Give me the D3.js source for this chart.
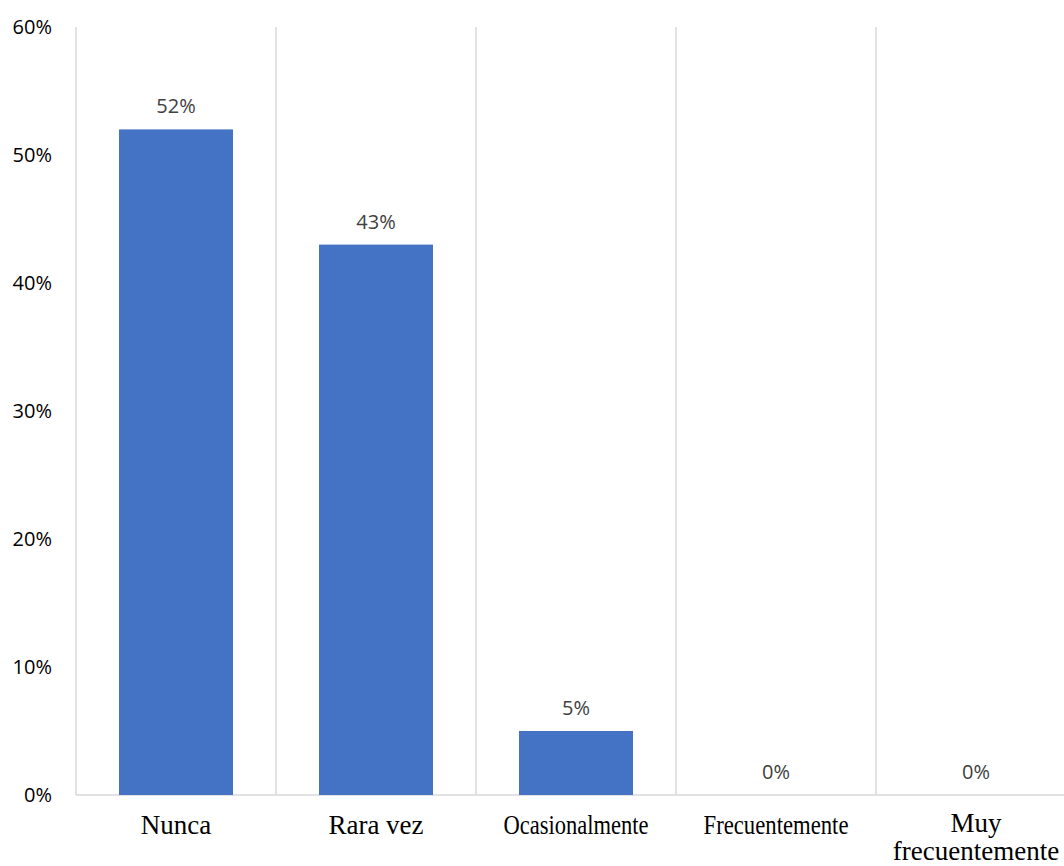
<!DOCTYPE html>
<html>
<head>
<meta charset="utf-8">
<script src="https://cdn.jsdelivr.net/npm/d3@7"></script>
<style>
  html, body { margin: 0; padding: 0; background: #ffffff; }
  svg { display: block; }
</style>
</head>
<body>
<script>
// Frequency categories and their share of responses
const categories = ["Nunca", "Rara vez", "Ocasionalmente", "Frecuentemente", "Muy frecuentemente"];
const categoryLines = [["Nunca"], ["Rara vez"], ["Ocasionalmente"], ["Frecuentemente"], ["Muy", "frecuentemente"]];
const values = [0.52, 0.43, 0.05, 0, 0];
const yTicks = [0, 0.1, 0.2, 0.3, 0.4, 0.5, 0.6];

const width = 1064, height = 866;
const plot = { left: 76, right: 1076, top: 27, bottom: 795 };

const svg = d3.select("body").append("svg")
  .attr("width", width)
  .attr("height", height);

const x = d3.scaleBand()
  .domain(categories)
  .range([plot.left, plot.right])
  .paddingInner(0.43)
  .paddingOuter(0.215);

const y = d3.scaleLinear()
  .domain([0, 0.6])
  .range([plot.bottom, plot.top]);

const step = x.step();
const pct = d3.format(".0%");
const sans = "'Open Sans', 'Noto Sans', sans-serif";

// Vertical separators between categories
const grid = svg.append("g");
d3.range(categories.length + 1).forEach(i => {
  const gx = plot.left + i * step;
  grid.append("line")
    .attr("x1", gx).attr("x2", gx)
    .attr("y1", y(0.6)).attr("y2", y(0))
    .attr("stroke", "#d9d9d9")
    .attr("stroke-width", 1.5);
});

// Baseline
svg.append("line")
  .attr("x1", plot.left).attr("x2", width)
  .attr("y1", y(0)).attr("y2", y(0))
  .attr("stroke", "#d9d9d9")
  .attr("stroke-width", 1.5);

// Y axis labels
const yAxis = d3.axisLeft(y)
  .tickValues(yTicks)
  .tickFormat(pct)
  .tickSize(0)
  .tickPadding(0);

const yg = svg.append("g")
  .attr("transform", `translate(52,0)`)
  .call(yAxis);
yg.select(".domain").remove();
yg.selectAll("text")
  .attr("font-family", sans)
  .attr("font-size", 20)
  .attr("fill", "#000000");

// Bars
svg.append("g")
  .selectAll("rect")
  .data(values)
  .join("rect")
  .attr("x", (d, i) => x(categories[i]))
  .attr("y", d => y(d))
  .attr("width", x.bandwidth())
  .attr("height", d => y(0) - y(d))
  .attr("fill", "#4472C4");

// Value labels
svg.append("g")
  .selectAll("text")
  .data(values)
  .join("text")
  .attr("x", (d, i) => x(categories[i]) + x.bandwidth() / 2)
  .attr("y", d => y(d) - 16)
  .attr("text-anchor", "middle")
  .attr("font-family", sans)
  .attr("font-size", 20)
  .attr("fill", "#404040")
  .text(d => pct(d));

// Category labels
const catG = svg.append("g");
categoryLines.forEach((lines, i) => {
  const cx = x(categories[i]) + x.bandwidth() / 2;
  const t = catG.append("text")
    .attr("text-anchor", "middle")
    .attr("font-family", "'Liberation Serif', 'Times New Roman', serif")
    .attr("font-size", 27)
    .attr("fill", "#000000");
  const top = lines.length > 1 ? 832 : 834;
  lines.forEach((line, j) => {
    const span = t.append("tspan")
      .attr("x", cx)
      .attr("y", top + j * 28)
      .text(line);
    // long single-line labels are set tighter so they fit their column
    if (lines.length === 1 && span.node().getComputedTextLength() > 150) {
      span.attr("textLength", 145).attr("lengthAdjust", "spacingAndGlyphs");
    }
  });
});
</script>
</body>
</html>
